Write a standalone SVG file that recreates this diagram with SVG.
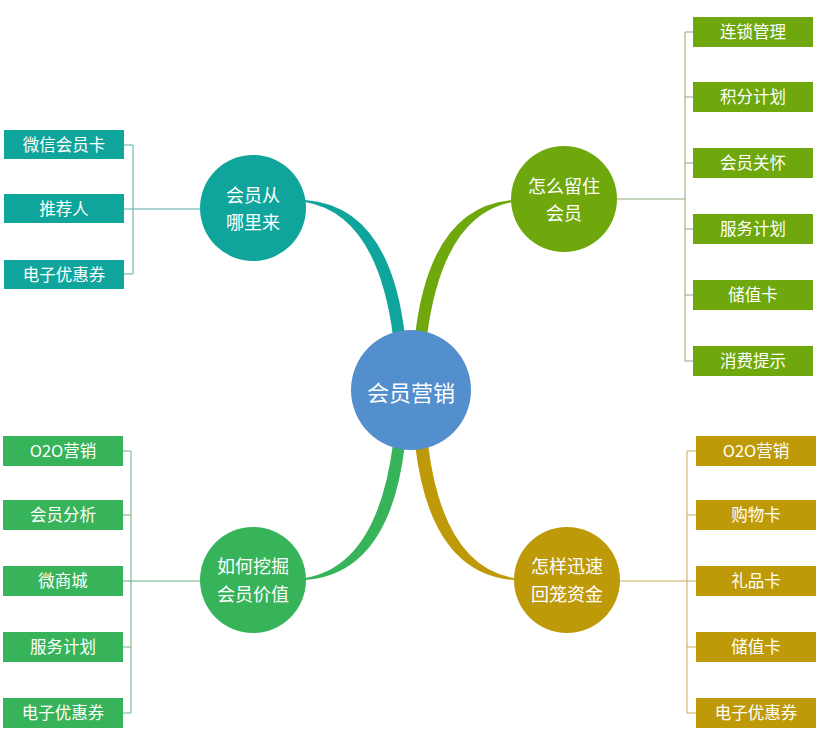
<svg xmlns="http://www.w3.org/2000/svg" width="822" height="732" viewBox="0 0 822 732">
<style>
text{font-family:"Noto Sans CJK SC","Noto Sans",sans-serif;fill:#fff;text-anchor:middle}
.box{font-size:16.5px}
.ct{font-size:18px}
.teal{fill:#10a59c}
.lgreen{fill:#6ea80c}
.green{fill:#37b35a}
.gold{fill:#bf9a08}
.ln{fill:none;stroke-width:1}
</style>
<g id="connectors">
  <path class="teal" d="M305,200 Q390,206 405,336 L393,336 Q377,214 305,202 Z"/>
  <path class="lgreen" d="M513,200 Q430,206 415,336 L427,336 Q443,214 513,202 Z"/>
  <path class="green" d="M305,580 Q390,574 405,444 L393,444 Q377,566 305,578 Z"/>
  <path class="gold" d="M514,580 Q430,574 415,444 L428,444 Q443,566 514,578 Z"/>
  <g class="ln" stroke="#5aaea8">
    <path d="M124,145 H133 V274 H124 M124,209 H200"/>
  </g>
  <g class="ln" stroke="#8fa87a">
    <path d="M693,32 H685 V361 H693 M685,97 H693 M685,163 H693 M685,229 H693 M685,295 H693 M617,199 H685"/>
  </g>
  <g class="ln" stroke="#6ab37e">
    <path d="M123,451 H131 V713 H123 M123,515 H131 M123,647 H131 M123,581 H200"/>
  </g>
  <g class="ln" stroke="#c9a95a">
    <path d="M696,451 H687 V713 H696 M687,515 H696 M687,647 H696 M620,581 H696"/>
  </g>
</g>
<g id="center">
  <circle cx="411" cy="390" r="60" fill="#538ecd"/>
  <text x="411" y="401" style="font-size:22px">会员营销</text>
</g>
<g id="n-tl">
  <circle class="teal" cx="253" cy="208" r="53"/>
  <text class="ct" x="253" y="202">会员从</text>
  <text class="ct" x="253" y="229">哪里来</text>
</g>
<g id="n-tr">
  <circle class="lgreen" cx="564" cy="199" r="53"/>
  <text class="ct" x="564" y="193">怎么留住</text>
  <text class="ct" x="564" y="220">会员</text>
</g>
<g id="n-bl">
  <circle class="green" cx="253" cy="580" r="53"/>
  <text class="ct" x="253" y="573">如何挖掘</text>
  <text class="ct" x="253" y="601">会员价值</text>
</g>
<g id="n-br">
  <circle class="gold" cx="567" cy="580" r="53"/>
  <text class="ct" x="567" y="573">怎样迅速</text>
  <text class="ct" x="567" y="601">回笼资金</text>
</g>
<g id="tl-1"><rect class="teal" x="4" y="130" width="120" height="29"/><text class="box" x="64" y="151">微信会员卡</text></g>
<g id="tl-2"><rect class="teal" x="4" y="194" width="120" height="29"/><text class="box" x="64" y="215">推荐人</text></g>
<g id="tl-3"><rect class="teal" x="4" y="260" width="120" height="29"/><text class="box" x="64" y="281">电子优惠券</text></g>
<g id="tr-1"><rect class="lgreen" x="693" y="17" width="120" height="30"/><text class="box" x="753" y="38">连锁管理</text></g>
<g id="tr-2"><rect class="lgreen" x="693" y="82" width="120" height="30"/><text class="box" x="753" y="103">积分计划</text></g>
<g id="tr-3"><rect class="lgreen" x="693" y="148" width="120" height="30"/><text class="box" x="753" y="169">会员关怀</text></g>
<g id="tr-4"><rect class="lgreen" x="693" y="214" width="120" height="30"/><text class="box" x="753" y="235">服务计划</text></g>
<g id="tr-5"><rect class="lgreen" x="693" y="280" width="120" height="30"/><text class="box" x="753" y="301">储值卡</text></g>
<g id="tr-6"><rect class="lgreen" x="693" y="346" width="120" height="30"/><text class="box" x="753" y="367">消费提示</text></g>
<g id="bl-1"><rect class="green" x="3" y="436" width="120" height="30"/><text class="box" x="63" y="457">O2O营销</text></g>
<g id="bl-2"><rect class="green" x="3" y="500" width="120" height="30"/><text class="box" x="63" y="521">会员分析</text></g>
<g id="bl-3"><rect class="green" x="3" y="566" width="120" height="30"/><text class="box" x="63" y="587">微商城</text></g>
<g id="bl-4"><rect class="green" x="3" y="632" width="120" height="30"/><text class="box" x="63" y="653">服务计划</text></g>
<g id="bl-5"><rect class="green" x="3" y="698" width="120" height="30"/><text class="box" x="63" y="719">电子优惠券</text></g>
<g id="br-1"><rect class="gold" x="696" y="436" width="120" height="30"/><text class="box" x="756" y="457">O2O营销</text></g>
<g id="br-2"><rect class="gold" x="696" y="500" width="120" height="30"/><text class="box" x="756" y="521">购物卡</text></g>
<g id="br-3"><rect class="gold" x="696" y="566" width="120" height="30"/><text class="box" x="756" y="587">礼品卡</text></g>
<g id="br-4"><rect class="gold" x="696" y="632" width="120" height="30"/><text class="box" x="756" y="653">储值卡</text></g>
<g id="br-5"><rect class="gold" x="696" y="698" width="120" height="30"/><text class="box" x="756" y="719">电子优惠券</text></g>
</svg>
